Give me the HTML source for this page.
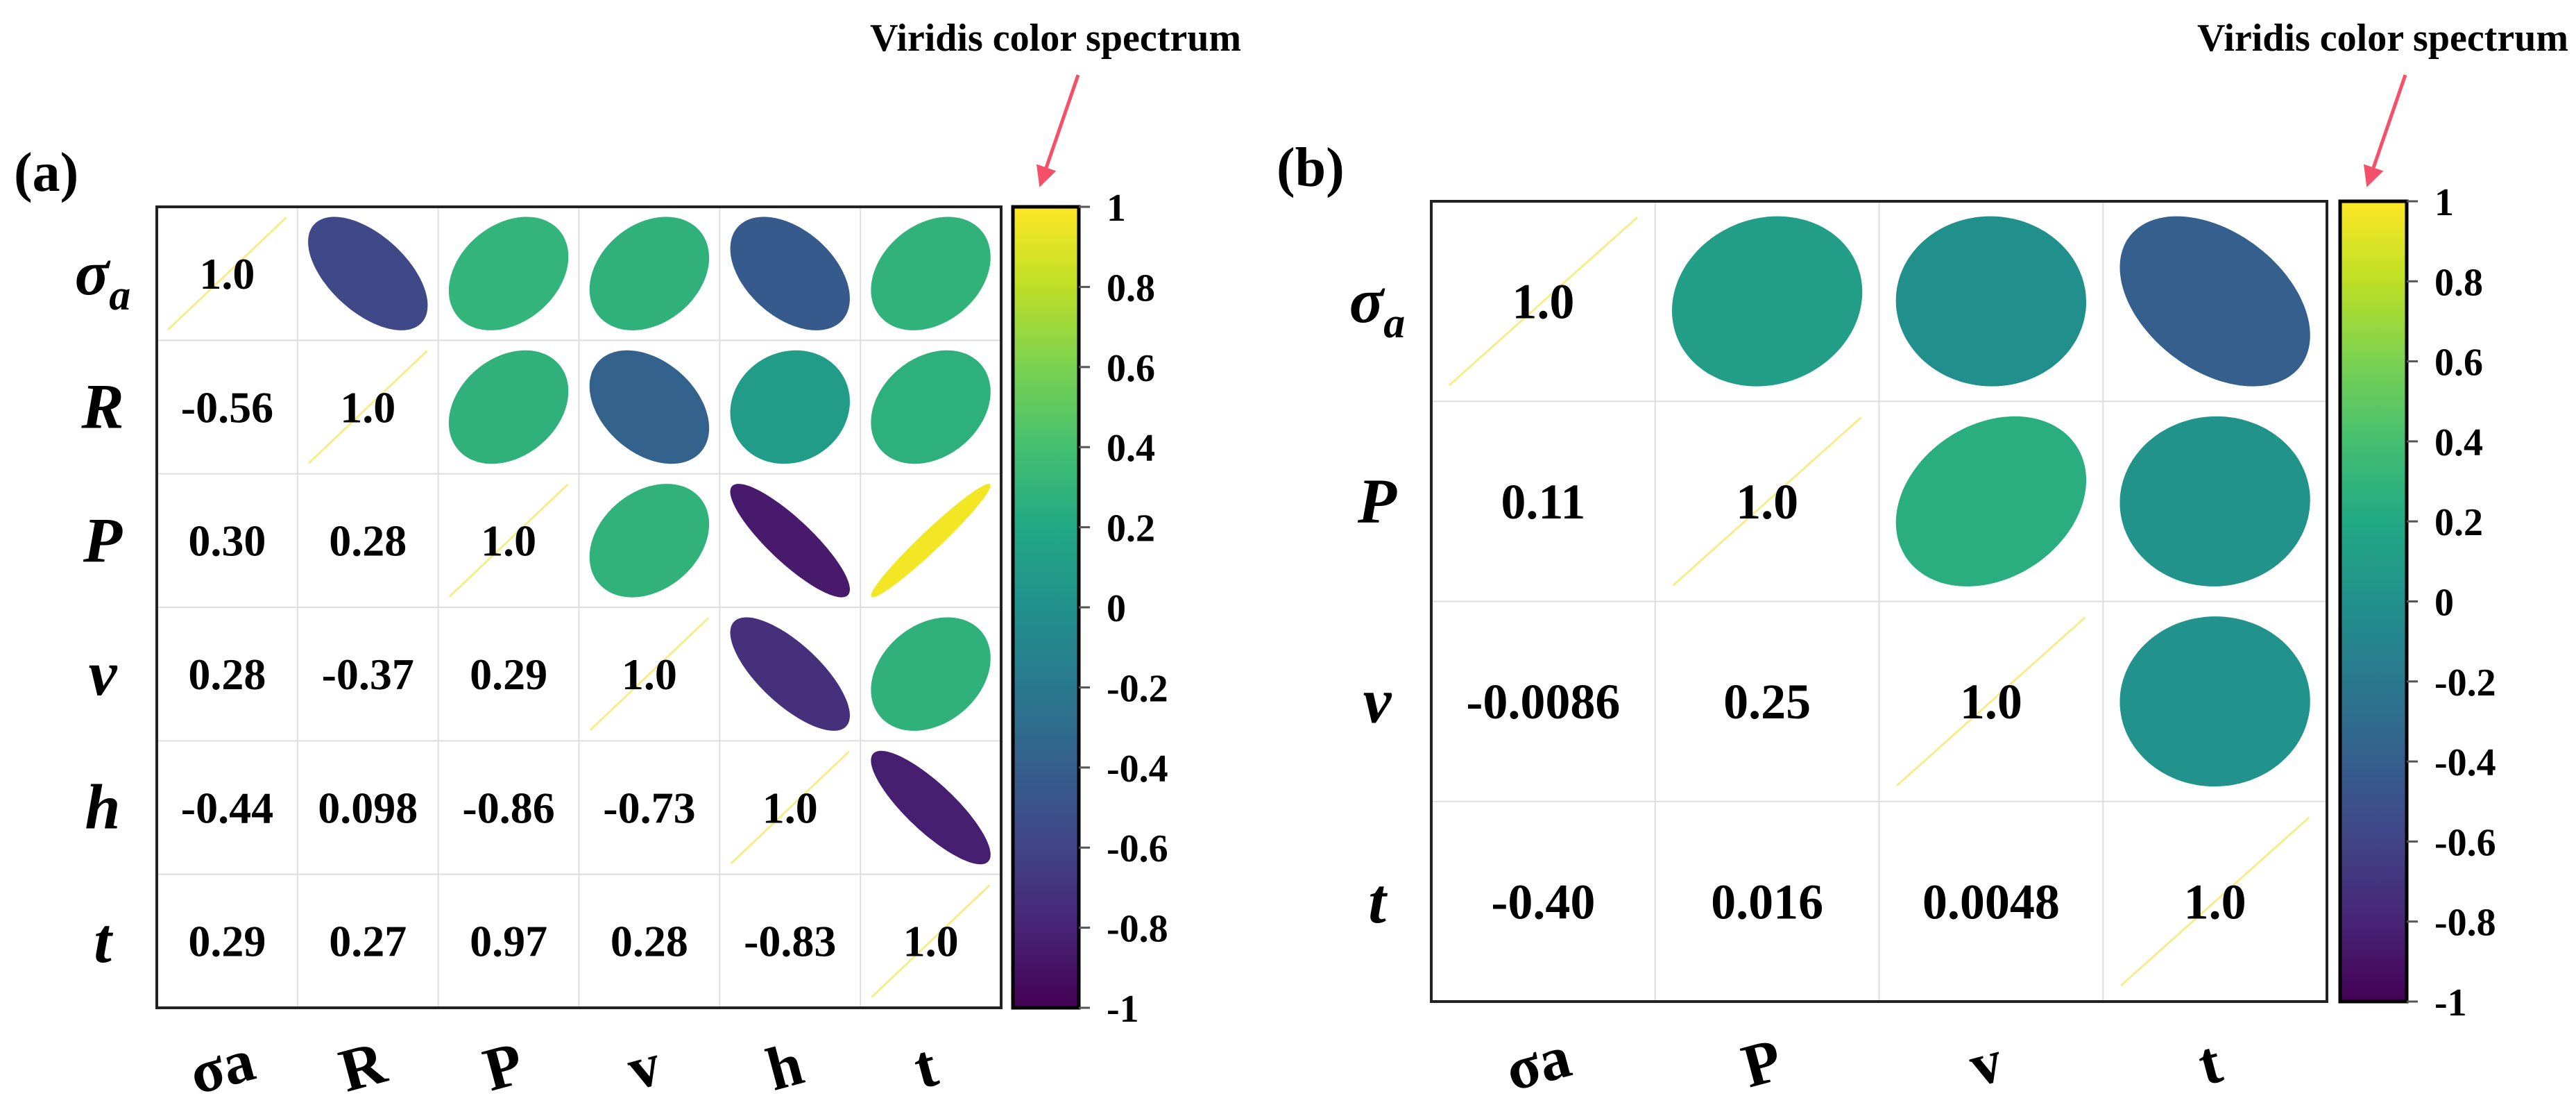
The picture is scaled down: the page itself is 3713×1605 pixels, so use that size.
<!DOCTYPE html>
<html><head><meta charset="utf-8">
<style>
html,body{margin:0;padding:0;background:#fff;}
svg text{font-family:"Liberation Serif",serif;font-weight:bold;}
</style></head>
<body>
<svg id="fig" width="3713" height="1600" viewBox="0 0 3713 1600" xmlns="http://www.w3.org/2000/svg">
<defs>
<linearGradient id="vir" x1="0" y1="1" x2="0" y2="0">
<stop offset="0" stop-color="#440154"/><stop offset="0.1" stop-color="#482475"/>
<stop offset="0.2" stop-color="#414487"/><stop offset="0.3" stop-color="#355f8d"/>
<stop offset="0.4" stop-color="#2a788e"/><stop offset="0.5" stop-color="#21918c"/>
<stop offset="0.6" stop-color="#22a884"/><stop offset="0.7" stop-color="#44bf70"/>
<stop offset="0.8" stop-color="#7ad151"/><stop offset="0.9" stop-color="#bddf26"/>
<stop offset="1" stop-color="#fde725"/>
</linearGradient>
<marker id="ah" markerWidth="6" markerHeight="6" refX="5" refY="3" orient="auto" markerUnits="strokeWidth">
<path d="M0,0 L6,3 L0,6 z" fill="#f4506a"/></marker>
</defs>
<g id="root"></g>
</svg>
<script>
// Panel (a) data
const labelsA = ["σa","R","P","v","h","t"];
const corrA = [
 [1.0,-0.56,0.30,0.28,-0.44,0.29],
 [-0.56,1.0,0.28,-0.37,0.098,0.27],
 [0.30,0.28,1.0,0.29,-0.86,0.97],
 [0.28,-0.37,0.29,1.0,-0.73,0.28],
 [-0.44,0.098,-0.86,-0.73,1.0,-0.83],
 [0.29,0.27,0.97,0.28,-0.83,1.0]
];
const textA = [
 ["1.0","","","","",""],
 ["-0.56","1.0","","","",""],
 ["0.30","0.28","1.0","","",""],
 ["0.28","-0.37","0.29","1.0","",""],
 ["-0.44","0.098","-0.86","-0.73","1.0",""],
 ["0.29","0.27","0.97","0.28","-0.83","1.0"]
];
// Panel (b) data
const labelsB = ["σa","P","v","t"];
const corrB = [
 [1.0,0.11,-0.0086,-0.40],
 [0.11,1.0,0.25,0.016],
 [-0.0086,0.25,1.0,0.0048],
 [-0.40,0.016,0.0048,1.0]
];
const textB = [
 ["1.0","","",""],
 ["0.11","1.0","",""],
 ["-0.0086","0.25","1.0",""],
 ["-0.40","0.016","0.0048","1.0"]
];
const cbTicks = [1,0.8,0.6,0.4,0.2,0,-0.2,-0.4,-0.6,-0.8,-1];
const cbTickLabels = ["1","0.8","0.6","0.4","0.2","0","-0.2","-0.4","-0.6","-0.8","-1"];

const NS="http://www.w3.org/2000/svg";
const root=document.getElementById('root');
function mk(tag,attrs,parent){const e=document.createElementNS(NS,tag);for(const k in attrs)e.setAttribute(k,attrs[k]);(parent||root).appendChild(e);return e;}
const vstops=[[68,1,84],[72,36,117],[65,68,135],[53,95,141],[42,120,142],[33,145,140],[34,168,132],[68,191,112],[122,209,81],[189,223,38],[253,231,37]];
function viridis(r){let t=(r+1)/2*10;t=Math.max(0,Math.min(10,t));const i=Math.min(9,Math.floor(t)),f=t-i;const a=vstops[i],b=vstops[i+1];
 return `rgb(${Math.round(a[0]+(b[0]-a[0])*f)},${Math.round(a[1]+(b[1]-a[1])*f)},${Math.round(a[2]+(b[2]-a[2])*f)})`;}

function panel(p){
 const n=p.labels.length, cw=(p.x1-p.x0)/n, ch=(p.y1-p.y0)/n;
 const colX=j=>p.x0+cw*(j+0.5), rowY=i=>p.y0+ch*(i+0.5);
 const g=mk('g',{});
 
 
 for(let k=1;k<n;k++){
  const gv=mk('line',{x1:p.x0+cw*k,x2:p.x0+cw*k,y1:p.y0,y2:p.y1,stroke:'#dedede','stroke-width':2},g);
  
  
  const gh=mk('line',{y1:p.y0+ch*k,y2:p.y0+ch*k,x1:p.x0,x2:p.x1,stroke:'#dedede','stroke-width':2},g);
  
  
 }
 for(let i=0;i<n;i++)for(let j=0;j<n;j++){
  const r=p.corr[i][j], cx=colX(j), cy=rowY(i);
  if(i===j){
   const dl=mk('line',{x1:cx-cw*0.42,y1:cy+ch*0.42,x2:cx+cw*0.42,y2:cy-ch*0.42,stroke:'#f7ec8c','stroke-width':3},g);
   
   
  }
  if(j>i){
   const d=Math.acos(Math.max(-1,Math.min(1,r)));let pts=[];
   for(let k=0;k<120;k++){const t=k/120*2*Math.PI;
    pts.push((cx+Math.cos(t+d/2)*cw*0.425).toFixed(1)+','+(cy-Math.cos(t-d/2)*ch*0.425).toFixed(1));}
   const el=mk('polygon',{points:pts.join(' '),fill:viridis(r)},g);
   
   
  } else {
   const tx=mk('text',{x:cx,y:cy+p.fs*0.34,'text-anchor':'middle','font-size':p.fs,fill:'#000'},g);
   tx.textContent=p.text[i][j];
   
   
  }
 }
 const bx=mk('rect',{x:p.x0,y:p.y0,width:p.x1-p.x0,height:p.y1-p.y0,fill:'none',stroke:'#222','stroke-width':4},g);
 
 
 for(let i=0;i<n;i++){
  const lab=p.labels[i];
  const rl=mk('text',{x:p.x0-78,y:rowY(i)+30,'text-anchor':'middle','font-size':92,'font-style':'italic'});
  if(lab==='σa'){rl.textContent='σ';const s=mk('tspan',{'font-size':62,dy:22},rl);s.textContent='a';}
  else rl.textContent=lab;
  
  
  const cl=mk('text',{x:0,y:0,'text-anchor':'middle','font-size':88,transform:`translate(${colX(i)},${p.labY}) rotate(-15)`});
  cl.textContent=lab;
  
  
 }
 const cbY=v=>p.y1-(v+1)/2*(p.y1-p.y0);
 const cb=mk('rect',{x:p.cbx,y:p.y0,width:p.cbw,height:p.y1-p.y0,fill:'url(#vir)',stroke:'#000','stroke-width':5});
 
 
 cbTicks.forEach((v,k)=>{
  const tl=mk('line',{x1:p.cbx+p.cbw,x2:p.cbx+p.cbw+16,y1:cbY(v),y2:cbY(v),stroke:'#555','stroke-width':3});
  
  
  const tt=mk('text',{x:p.cbx+p.cbw+40,y:cbY(v)+20,'font-size':56});
  tt.textContent=cbTickLabels[k];
  
  
 });
 const pl=mk('text',{x:p.plx,y:p.ply,'font-size':80});
 pl.textContent=p.tag;
 
 
 const an=mk('text',{x:p.cbx+329,y:73,'text-anchor':'end','font-size':56});
 an.textContent='Viridis color spectrum';
 
 
 const ar=mk('line',{x1:p.cbx+94,y1:108,x2:p.cbx+40,y2:265,stroke:'#f4506a','stroke-width':5,'marker-end':'url(#ah)'});
 
 
}
panel({name:'panel-a',tag:'(a)',labels:labelsA,corr:corrA,text:textA,x0:226,x1:1443,y0:298,y1:1452,fs:64,labY:1565,cbx:1460,cbw:95,plx:20,ply:275});
panel({name:'panel-b',tag:'(b)',labels:labelsB,corr:corrB,text:textB,x0:2063,x1:3354,y0:290,y1:1443,fs:72,labY:1560,cbx:3373,cbw:96,plx:1840,ply:268});
</script>
</body></html>
